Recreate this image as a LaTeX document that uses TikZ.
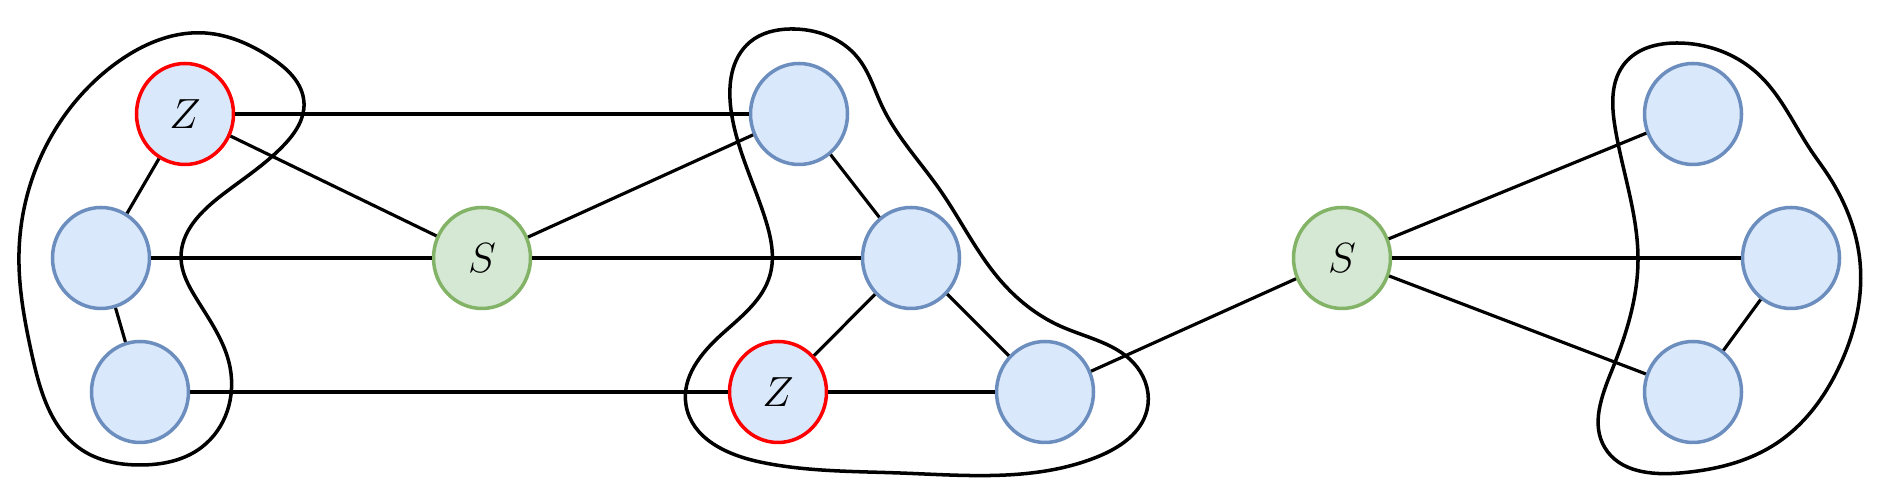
\documentclass[tikz,border=0pt]{standalone}
\usepackage{tikz}
\usetikzlibrary{shapes.geometric,hobby}
\definecolor{nodefill}{RGB}{218,232,252}
\definecolor{nodeline}{RGB}{108,142,191}
\definecolor{sepfill}{RGB}{213,232,212}
\definecolor{sepline}{RGB}{130,179,102}
\definecolor{zline}{RGB}{255,0,0}

\begin{document}
\begin{tikzpicture}[
  x=0.1mm, y=-0.1mm,
  vert/.style={ellipse, draw=nodeline, fill=nodefill, line width=1pt, minimum width=9.7mm, minimum height=10.1mm, inner sep=0pt, font=\fontsize{13}{15}\selectfont},
  zvert/.style={vert, draw=zline},
  svert/.style={vert, draw=sepline, fill=sepfill},
  edge/.style={line width=0.9pt, draw=black},
  blob/.style={line width=1pt, draw=black, use Hobby shortcut, closed=true}
]
\useasboundingbox (0,0) rectangle (1900,480);
% left group
\node[zvert] (z1) at (185,114) {$Z$};
\node[vert] (a1) at (101,258) {};
\node[vert] (a2) at (140,392) {};
\node[svert] (s1) at (482,258) {$S$};
% middle group
\node[vert] (b1) at (799,114) {};
\node[vert] (b2) at (911,258) {};
\node[zvert] (z2) at (778,392) {$Z$};
\node[vert] (b3) at (1045,392) {};
\node[svert] (s2) at (1342,258) {$S$};
% right group
\node[vert] (c1) at (1693,114) {};
\node[vert] (c2) at (1791,258) {};
\node[vert] (c3) at (1693,392) {};
% edges
\draw[edge] (z1)--(b1); \draw[edge] (z1)--(s1); \draw[edge] (z1)--(a1);
\draw[edge] (a1)--(s1); \draw[edge] (a1)--(a2); \draw[edge] (a2)--(z2);
\draw[edge] (s1)--(b1); \draw[edge] (s1)--(b2);
\draw[edge] (b1)--(b2); \draw[edge] (b2)--(z2); \draw[edge] (b2)--(b3); \draw[edge] (z2)--(b3);
\draw[edge] (b3)--(s2);
\draw[edge] (s2)--(c1); \draw[edge] (s2)--(c2); \draw[edge] (s2)--(c3); \draw[edge] (c2)--(c3);
% blobs
\draw[blob] (205,33) .. (270,57) .. (304,103) .. (284,145) .. (222,195) .. (181,258) .. (196,298) .. (230,367) .. (202,447) .. (140,465) .. (82,450) .. (32,355) .. (19,253) .. (45,148) .. (115,64);
\draw[blob] (790,29) .. (858,58) .. (882,106) .. (940,190) .. (1000,280) .. (1060,326) .. (1137,367) .. (1147,410) .. (1097,457) .. (900,473) .. (760,462) .. (686,405) .. (722,334) .. (770,275) .. (765,218) .. (731,110) .. (750,42);
\draw[blob] (1677,43) .. (1757,73) .. (1812,152) .. (1826,172) .. (1860,262) .. (1840,365) .. (1777,443) .. (1680,473) .. (1605,448) .. (1612,370) .. (1638,260) .. (1615,127) .. (1625,63);
\end{tikzpicture}
\end{document}
